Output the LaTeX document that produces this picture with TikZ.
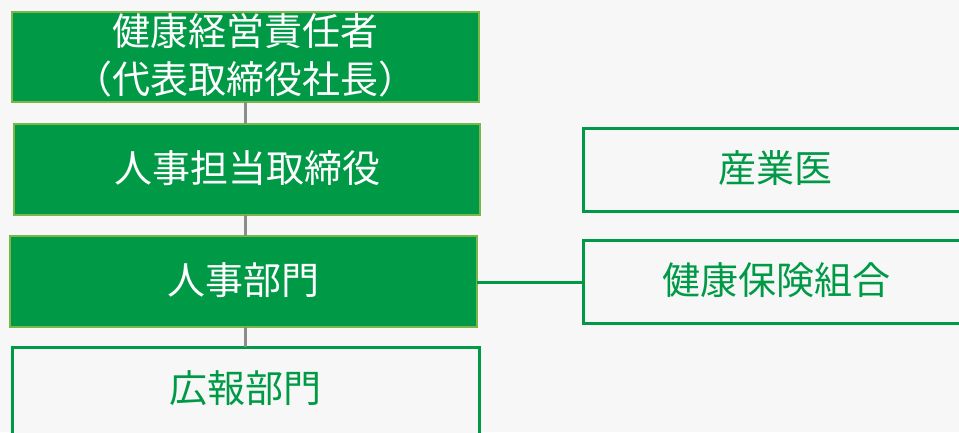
\documentclass[tikz,border=0pt]{standalone}
\usepackage{fontspec}
\newfontfamily\jp{Noto Sans CJK JP}
\definecolor{bg}{HTML}{F7F7F7}
\definecolor{gfill}{HTML}{009A47}
\definecolor{gedge}{HTML}{7AB648}
\definecolor{gline}{HTML}{8C8C8C}
\begin{document}
\begin{tikzpicture}[x=1pt,y=-1pt,
  solidbox/.style={draw=gedge,line width=2.5pt,fill=gfill,text=white},
  openbox/.style={draw=gfill,line width=3pt,fill=bg,text=gfill},
  lbl/.style={font=\jp\fontsize{38}{48}\selectfont,align=center,inner sep=0pt},
  vlink/.style={draw=gline,line width=2.5pt},
  hlink/.style={draw=gfill,line width=3pt}]
\useasboundingbox (0,0) rectangle (959,432);
\clip (0,0) rectangle (959,432);
\fill[bg] (0,0) rectangle (959,432);
% boxes
\draw[solidbox] (12,12) rectangle (479,102);
\draw[solidbox] (14,124) rectangle (480,215);
\draw[solidbox] (10,236) rectangle (477,327);
\draw[openbox] (12,347) rectangle (479,440);
\draw[openbox] (583,128) rectangle (970,211);
\draw[openbox] (583,240) rectangle (970,323);
% anchor nodes
\node[coordinate] (a) at (245.5,102) {};
\node[coordinate] (b1) at (245.5,124) {};
\node[coordinate] (b2) at (245.5,215) {};
\node[coordinate] (c1) at (245.5,236) {};
\node[coordinate] (c2) at (245.5,327) {};
\node[coordinate] (d) at (245.5,347) {};
\node[coordinate] (cr) at (477,282) {};
\node[coordinate] (fl) at (583,282) {};
% labels
\node[lbl,text=white] (t1) at (245.5,55) {健康経営責任者\\（代表取締役社長）};
\node[lbl,text=white] (t2) at (247,168.5) {人事担当取締役};
\node[lbl,text=white] (t3) at (243.5,280.5) {人事部門};
\node[lbl,text=gfill] (t4) at (245.5,388) {広報部門};
\node[lbl,text=gfill] (t5) at (775,168.5) {産業医};
\node[lbl,text=gfill] (t6) at (776,280.5) {健康保険組合};
% connectors
\draw[vlink] (a) -- (b1);
\draw[vlink] (b2) -- (c1);
\draw[vlink] (c2) -- (d);
\draw[hlink] (cr) -- (fl);
\end{tikzpicture}
\end{document}
